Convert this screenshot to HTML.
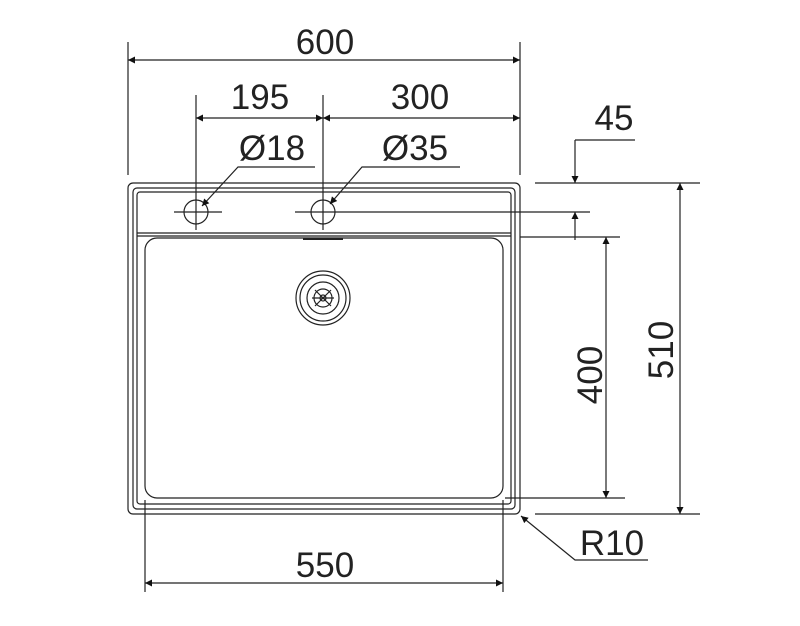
<!DOCTYPE html>
<html><head><style>body{margin:0;background:#fff}</style></head><body>
<svg width="800" height="621" xmlns="http://www.w3.org/2000/svg" font-family="Liberation Sans, sans-serif">
<defs><marker id="a" viewBox="0 0 10 10" refX="10" refY="5" markerWidth="12" markerHeight="7" orient="auto-start-reverse" markerUnits="userSpaceOnUse"><path d="M0,0L10,5L0,10z" fill="#111"/></marker></defs>
<g fill="none" stroke="#222" stroke-width="1.2">
<rect x="128" y="183" width="392" height="331" rx="5"/>
<rect x="133" y="188" width="382" height="321" rx="4"/>
<rect x="137" y="192" width="374" height="312" rx="3"/>
<line x1="137" y1="233" x2="511" y2="233"/>
<line x1="137" y1="236" x2="511" y2="236"/>
<line x1="303" y1="239" x2="343" y2="239" stroke-width="2"/>
<rect x="145" y="238" width="358" height="260" rx="12"/>
<circle cx="196" cy="212" r="12"/><circle cx="323" cy="212" r="12"/>
<line x1="174" y1="212" x2="222" y2="212"/><line x1="295" y1="212" x2="590" y2="212"/>
<circle cx="323" cy="298" r="27"/><circle cx="323" cy="298" r="23"/><circle cx="323" cy="298" r="16"/><circle cx="323" cy="298" r="9"/><circle cx="323" cy="298" r="3"/>
<line x1="315" y1="290" x2="331" y2="306"/><line x1="331" y1="290" x2="315" y2="306"/><line x1="312" y1="298" x2="334" y2="298"/>
<line x1="128" y1="42" x2="128" y2="175"/><line x1="520" y1="42" x2="520" y2="175"/>
<line x1="196" y1="95" x2="196" y2="230"/><line x1="323" y1="95" x2="323" y2="230"/>
<line x1="128" y1="60" x2="520" y2="60" marker-start="url(#a)" marker-end="url(#a)"/>
<line x1="196" y1="118" x2="323" y2="118" marker-start="url(#a)" marker-end="url(#a)"/>
<line x1="323" y1="118" x2="520" y2="118" marker-start="url(#a)" marker-end="url(#a)"/>
<polyline points="315,167 238,167 202,206" marker-end="url(#a)"/>
<polyline points="460,167 362,167 330,204" marker-end="url(#a)"/>
<line x1="535" y1="183" x2="700" y2="183"/>
<line x1="575" y1="140" x2="635" y2="140"/>
<line x1="575" y1="140" x2="575" y2="183" marker-end="url(#a)"/>
<line x1="575" y1="240" x2="575" y2="212" marker-end="url(#a)"/>
<line x1="520" y1="237" x2="620" y2="237"/>
<line x1="505" y1="498" x2="625" y2="498"/>
<line x1="606" y1="237" x2="606" y2="498" marker-start="url(#a)" marker-end="url(#a)"/>
<line x1="535" y1="514" x2="700" y2="514"/>
<line x1="680" y1="183" x2="680" y2="514" marker-start="url(#a)" marker-end="url(#a)"/>
<line x1="145" y1="500" x2="145" y2="592"/><line x1="503" y1="500" x2="503" y2="592"/>
<line x1="145" y1="583" x2="503" y2="583" marker-start="url(#a)" marker-end="url(#a)"/>
<polyline points="648,560 575,560 521,516" marker-end="url(#a)"/>
</g>
<g fill="#222" font-size="35" text-anchor="middle">
<text x="325" y="54">600</text>
<text x="260" y="109">195</text>
<text x="420" y="109">300</text>
<text x="272" y="160">Ø18</text>
<text x="415" y="160">Ø35</text>
<text x="614" y="130">45</text>
<text x="325" y="577">550</text>
<text x="612" y="555">R10</text>
<text transform="translate(602,375) rotate(-90)">400</text>
<text transform="translate(673,350) rotate(-90)">510</text>
</g>
</svg>
</body></html>
